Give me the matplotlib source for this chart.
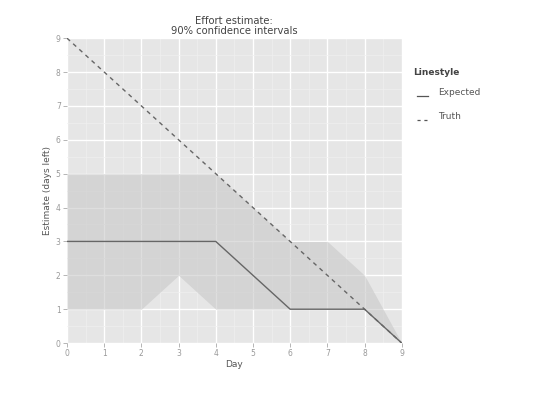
import matplotlib
matplotlib.use("Agg")
import matplotlib.pyplot as plt
from matplotlib.lines import Line2D
import numpy as np

days = [0, 1, 2, 3, 4, 5, 6, 7, 8, 9]
expected = [3, 3, 3, 3, 3, 2, 1, 1, 1, 0]
truth = [9, 8, 7, 6, 5, 4, 3, 2, 1, 0]
lower = [1, 1, 1, 2, 1, 1, 1, 1, 1, 0]
upper = [5, 5, 5, 5, 5, 4, 3, 3, 2, 0]

fig = plt.figure(figsize=(5.4, 3.93), dpi=100)
ax = fig.add_axes([0.124, 0.127, 0.62, 0.776])
ax.set_facecolor("#E6E6E6")
ax.set_xlim(0, 9)
ax.set_ylim(0, 9)
ax.set_xticks(range(10))
ax.set_yticks(range(10))
ax.set_xticks(np.arange(0.5, 9, 0.5), minor=True)
ax.set_yticks(np.arange(0.5, 9, 0.5), minor=True)
ax.grid(which="major", color="white", linewidth=1.0)
ax.grid(which="minor", color="#F0F0F0", linewidth=0.5)
ax.set_axisbelow(True)
for s in ax.spines.values():
    s.set_visible(False)
ax.tick_params(which="major", length=3, width=0.6, color="#AAAAAA",
               labelsize=5.5, labelcolor="#999999", pad=1.5)
ax.tick_params(which="minor", length=0)

ax.fill_between(days, lower, upper, color="#C8C8C8", alpha=0.6, linewidth=0, zorder=2)
ax.plot(days, expected, color="#666666", linewidth=1.0, zorder=3)
ax.plot(days, truth, color="#666666", linewidth=1.0, linestyle=(0, (3, 3)), zorder=3)

ax.set_xlabel("Day", fontsize=6.5, color="#555555", labelpad=1)
ax.set_ylabel("Estimate (days left)", fontsize=6.5, color="#555555", labelpad=3)
ax.set_title("Effort estimate:\n90% confidence intervals", fontsize=7.2,
             color="#444444", pad=3, linespacing=1.0)

fig.text(0.765, 0.808, "Linestyle", fontsize=6.5, fontweight="bold", color="#444444")
fig.add_artist(Line2D([0.772, 0.793], [0.756, 0.756], color="#555555", linewidth=0.9))
fig.text(0.811, 0.764, "Expected", fontsize=6.5, color="#555555", va="center")
fig.add_artist(Line2D([0.772, 0.793], [0.695, 0.695], color="#555555", linewidth=0.9,
                      linestyle=(0, (2.5, 3))))
fig.text(0.811, 0.703, "Truth", fontsize=6.5, color="#555555", va="center")

fig.savefig("out.png", dpi=100, facecolor="white")
